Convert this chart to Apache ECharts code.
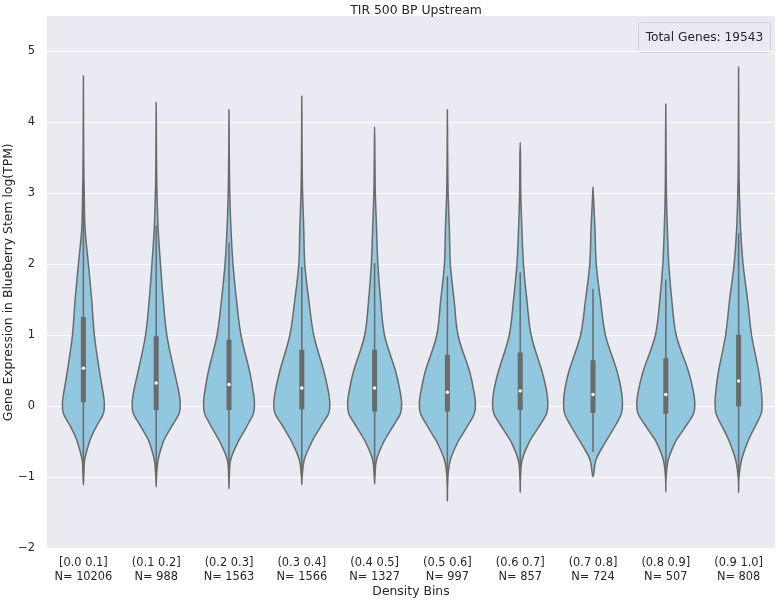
<!DOCTYPE html>
<html>
<head>
<meta charset="utf-8">
<script src="https://cdn.jsdelivr.net/npm/echarts@6/dist/echarts.min.js"></script>
<style>
  html, body { margin: 0; padding: 0; background: #fff; }
  #chart { width: 777px; height: 601px; }
</style>
</head>
<body>
<div id="chart"></div>
<script>
// density bins and gene counts
const categories = ['[0.0 0.1]', '(0.1 0.2]', '(0.2 0.3]', '(0.3 0.4]', '(0.4 0.5]',
  '(0.5 0.6]', '(0.6 0.7]', '(0.7 0.8]', '(0.8 0.9]', '(0.9 1.0]']
const counts = [10206, 988, 1563, 1566, 1327, 997, 857, 724, 507, 808]
const totalGenes = 19543

// violin outline: half width (in category units) at each expression level
const levels = [-1.0, -0.75, -0.5, -0.4, -0.25, -0.1, 0.05, 0.25, 0.5, 1, 1.5, 2, 2.5, 3, 3.5]
const halfWidths = [
  [0.004, 0.018, 0.082, 0.120, 0.195, 0.275, 0.288, 0.261, 0.220, 0.151, 0.114, 0.069, 0.023, 0.011, 0.004],
  [0.004, 0.027, 0.096, 0.145, 0.230, 0.315, 0.330, 0.302, 0.247, 0.147, 0.096, 0.059, 0.027, 0.011, 0.004],
  [0.004, 0.023, 0.124, 0.178, 0.261, 0.335, 0.350, 0.326, 0.282, 0.165, 0.103, 0.055, 0.027, 0.011, 0.004],
  [0.004, 0.034, 0.137, 0.190, 0.278, 0.368, 0.385, 0.357, 0.302, 0.165, 0.096, 0.041, 0.027, 0.011, 0.004],
  [0.004, 0.027, 0.124, 0.180, 0.270, 0.355, 0.371, 0.343, 0.288, 0.137, 0.082, 0.045, 0.027, 0.010, 0.004],
  [0.006, 0.041, 0.144, 0.203, 0.290, 0.370, 0.385, 0.357, 0.302, 0.147, 0.092, 0.041, 0.027, 0.010, 0.004],
  [0.004, 0.027, 0.124, 0.183, 0.278, 0.363, 0.380, 0.357, 0.298, 0.151, 0.092, 0.045, 0.023, 0.008, 0.004],
  [0.004, 0.041, 0.172, 0.232, 0.318, 0.390, 0.405, 0.385, 0.330, 0.172, 0.103, 0.045, 0.027, 0.004, 0.002],
  [0.004, 0.034, 0.130, 0.193, 0.292, 0.382, 0.398, 0.371, 0.309, 0.144, 0.082, 0.041, 0.021, 0.008, 0.004],
  [0.005, 0.041, 0.124, 0.168, 0.243, 0.310, 0.323, 0.309, 0.275, 0.179, 0.124, 0.062, 0.027, 0.011, 0.004],
]
const extentMin = [-1.10, -1.13, -1.16, -1.10, -1.09, -1.33, -1.21, -0.99, -1.20, -1.21]
const extentMax = [4.66, 4.28, 4.18, 4.37, 3.94, 4.18, 3.72, 3.09, 4.26, 4.78]

// inner box plot
const q1 = [0.06, -0.05, -0.05, -0.04, -0.07, -0.07, -0.05, -0.09, -0.10, 0.00]
const medians = [0.54, 0.33, 0.31, 0.26, 0.26, 0.20, 0.22, 0.17, 0.17, 0.36]
const q3 = [1.26, 0.99, 0.94, 0.80, 0.80, 0.73, 0.76, 0.65, 0.68, 1.01]
const whiskerLow = [-0.95, -1.0, -1.0, -0.95, -0.95, -1.1, -1.0, -0.64, -1.0, -1.0]
const whiskerHigh = [3.05, 2.55, 2.31, 1.97, 2.02, 1.83, 1.89, 1.66, 1.79, 2.44]

const fillColor = '#91c7df'
const lineColor = '#6a6a6a'
const textColor = '#262626'

const renderViolin = (params, api) => {
  const i = api.value(0)
  const bw = api.size([1, 0])[0]
  const cx = api.coord([i, 0])[0]
  const y = (v) => api.coord([i, v])[1]

  const right = [[cx, y(extentMin[i])]]
  const left = []
  levels.forEach((lv, k) => {
    if (lv <= extentMin[i] || lv >= extentMax[i]) return
    const w = halfWidths[i][k] * bw
    right.push([cx + w, y(lv)])
    left.unshift([cx - w, y(lv)])
  })
  right.push([cx, y(extentMax[i])])

  return {
    type: 'group',
    children: [
      {
        type: 'polygon',
        shape: { points: right.concat(left), smooth: 0.35 },
        style: { fill: fillColor, stroke: lineColor, lineWidth: 1.5 },
      },
      {
        type: 'line',
        shape: { x1: cx, y1: y(whiskerLow[i]), x2: cx, y2: y(whiskerHigh[i]) },
        style: { stroke: lineColor, lineWidth: 1.5 },
      },
      {
        type: 'line',
        shape: { x1: cx, y1: y(q1[i]), x2: cx, y2: y(q3[i]) },
        style: { stroke: lineColor, lineWidth: 5 },
      },
      {
        type: 'circle',
        shape: { cx, cy: y(medians[i]), r: 1.7 },
        style: { fill: '#ffffff' },
      },
    ],
  }
}

const chart = echarts.init(document.getElementById('chart'))
chart.setOption({
  animation: false,
  textStyle: { fontFamily: 'DejaVu Sans' },
  title: {
    text: 'TIR 500 BP Upstream',
    left: 411,
    textAlign: 'center',
    top: 0,
    textStyle: { fontSize: 12.4, fontWeight: 'normal', color: textColor },
  },
  grid: {
    left: 47,
    right: 2,
    top: 16,
    bottom: 52.5,
    outerBoundsMode: 'none',
    containLabel: false,
    show: true,
    backgroundColor: '#eaeaf2',
    borderWidth: 0,
  },
  xAxis: {
    type: 'category',
    data: categories,
    name: 'Density Bins',
    nameLocation: 'middle',
    nameGap: 37,
    nameMoveOverlap: false,
    nameTextStyle: { fontSize: 12.4, color: textColor },
    axisLine: { show: false },
    axisTick: { show: false },
    axisLabel: {
      interval: 0,
      margin: 8,
      fontSize: 11.4,
      lineHeight: 14,
      color: textColor,
      formatter: (v, idx) => v + '\nN= ' + counts[idx],
    },
  },
  yAxis: {
    type: 'value',
    min: -2,
    max: 5.5,
    interval: 1,
    name: 'Gene Expression in Blueberry Stem log(TPM)',
    nameLocation: 'middle',
    nameGap: 32,
    nameMoveOverlap: false,
    nameTextStyle: { fontSize: 12.4, color: textColor },
    axisLine: { show: false },
    axisTick: { show: false },
    splitLine: { showMaxLine: false, lineStyle: { color: '#ffffff', width: 1.2 } },
    axisLabel: {
      margin: 12,
      fontSize: 11.4,
      color: textColor,
      showMaxLabel: false,
      formatter: (v) => (v < 0 ? '\u2212' + Math.abs(v) : String(v)),
    },
  },
  graphic: [
    {
      type: 'group',
      right: 6,
      top: 22,
      children: [
        {
          type: 'rect',
          shape: { x: 0, y: 0, width: 132, height: 30, r: 3 },
          style: { fill: 'rgba(234,234,242,0.8)', stroke: '#cfcfd6', lineWidth: 1 },
        },
        {
          type: 'text',
          x: 66,
          y: 15,
          style: {
            text: 'Total Genes: ' + totalGenes,
            align: 'center',
            verticalAlign: 'middle',
            fontSize: 12.2,
            fontFamily: 'DejaVu Sans',
            fill: textColor,
          },
        },
      ],
    },
  ],
  series: [
    {
      type: 'custom',
      renderItem: renderViolin,
      data: categories.map((c, i) => [i]),
      encode: { x: 0 },
      z: 3,
    },
  ],
})
</script>
</body>
</html>
